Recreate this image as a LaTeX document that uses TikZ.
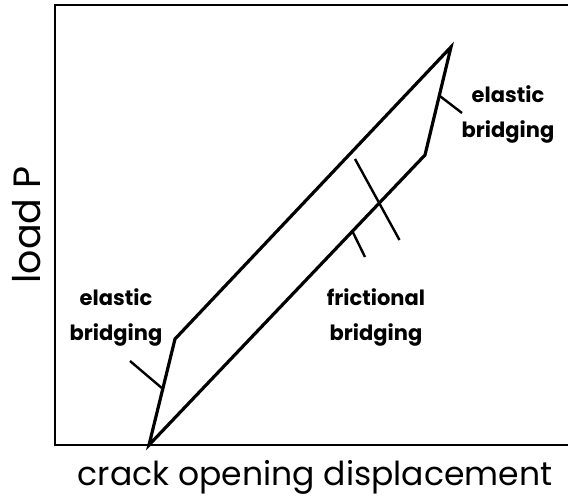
\documentclass[tikz,border=0pt]{standalone}
\usepackage{fontspec}
\setmainfont{Poppins}
\usepackage{tikz}
\usetikzlibrary{calc, positioning}

\begin{document}
\begin{tikzpicture}[
    x=1pt, y=1pt,
    axlabel/.style={font=\fontsize{33}{36}\selectfont, inner sep=0pt},
    note/.style={font=\bfseries\fontsize{21}{35}\selectfont, align=center, inner sep=0pt},
    curve/.style={line width=3.2pt},
    lead/.style={line width=2.4pt},
    frame/.style={line width=1.4pt}
]
\useasboundingbox (0,0) rectangle (568,-498);

% plot frame (open on the right)
\draw[frame] (570,-5) -- (55,-5) -- (55,-445) -- (570,-445);

% hysteresis loop
\coordinate (O) at (149,-445);
\coordinate (A) at (175,-339);
\coordinate (T) at (451,-47);
\coordinate (B) at (425,-155);
\draw[curve] (O) -- (A) -- (T) -- (B) -- cycle;

% labels
\node[axlabel, rotate=90, font=\fontsize{38}{40}\selectfont] (yl) at (27,-225) {load P};
\node[axlabel, anchor=base] (xl) at (315,-485) {crack opening displacement};
\node[note] (elleft) at (116,-317) {elastic\\bridging};
\node[note] (elright) at (508,-114) {elastic\\bridging};
\node[note] (fric) at (376,-317) {frictional\\bridging};

% leader lines
\coordinate (pl) at (130,-361);
\coordinate (pr) at (462,-113);
\coordinate (fa) at (355,-159);
\coordinate (fb) at (399.5,-240);
\coordinate (fc) at (365,-257);
\draw[lead] (pl) -- ($(O)!0.53!(A)$);
\draw[lead] ($(T)!0.45!(B)$) -- (pr);
\draw[lead] (fa) -- (fb);
\draw[lead] ($(O)!0.737!(B)$) -- (fc);
\end{tikzpicture}
\end{document}
